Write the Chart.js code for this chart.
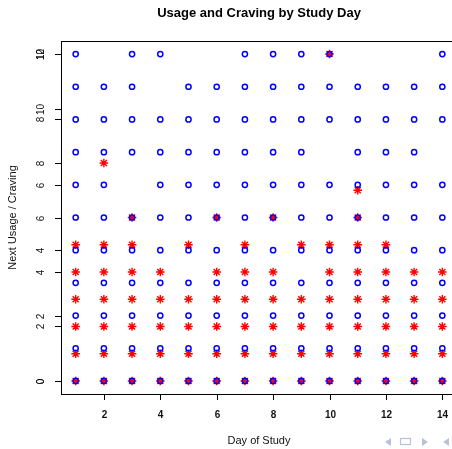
<!DOCTYPE html>
<html>
<head>
<meta charset="utf-8">
<script src="https://cdn.jsdelivr.net/npm/chart.js@4.4.1/dist/chart.umd.min.js"></script>
<style>
  html, body { margin: 0; padding: 0; background: #fff; overflow: hidden; }
  #wrap { width: 470px; height: 449px; }
</style>
</head>
<body>
<div id="wrap"><canvas id="c" width="470" height="449"></canvas></div>
<script>
// ---- data ----
const chartTitle = 'Usage and Craving by Study Day';
const xTitle = 'Day of Study';
const yTitle = 'Next Usage / Craving';
const allDays = [1,2,3,4,5,6,7,8,9,10,11,12,13,14];

// usage (blue circles): levels and the days on which each level occurs
const usageLevels = [0,1,2,3,4,5,6,7,8,9,10];
const usageDays = [
  [1,2,3,4,5,6,7,8,9,10,11,12,13,14],
  [1,2,3,4,5,6,7,8,9,10,11,12,13,14],
  [1,2,3,4,5,6,7,8,9,10,11,12,13,14],
  [1,2,3,4,5,6,7,8,9,10,11,12,13,14],
  [1,2,3,4,5,6,7,8,9,10,11,12,13,14],
  [1,2,3,4,5,6,7,8,9,10,11,12,13,14],
  [1,2,4,5,6,7,8,9,10,11,12,13,14],
  [1,2,3,4,5,6,7,8,9,11,12,13],
  [1,2,3,4,5,6,7,8,9,10,11,12,13,14],
  [1,2,3,5,6,7,8,9,10,11,12,13,14],
  [1,3,4,7,8,9,10,14]
];

// craving (red asterisks): levels and days
const cravingLevels = [0,1,2,3,4,5,6,7,8,12];
const cravingDays = [
  [1,2,3,4,5,6,7,8,9,10,11,12,13,14],
  [1,2,3,4,5,6,7,8,9,10,11,12,13,14],
  [1,2,3,4,5,6,7,8,9,10,11,12,13,14],
  [1,2,3,4,5,6,7,8,9,10,11,12,13,14],
  [1,2,3,4,6,7,8,10,11,12,13,14],
  [1,2,3,5,7,9,10,11,12],
  [3,6,8,11],
  [11],
  [2],
  [10]
];

const xTicks = [2,4,6,8,10,12,14];
const usageTicks = [0,2,4,6,8,10];
const cravingTicks = [0,2,4,6,8,10,12];

// ---- build point lists ----
function buildPoints(levels, daysPerLevel) {
  const pts = [];
  levels.forEach((lv, i) => daysPerLevel[i].forEach(d => pts.push({x: d, y: lv})));
  return pts;
}
const usagePoints = buildPoints(usageLevels, usageDays);
const cravingPoints = buildPoints(cravingLevels, cravingDays);

const FONT = '"Liberation Sans", Arial, Helvetica, sans-serif';

const rAxes = {
  id: 'rAxes',
  afterDraw(chart) {
    const {ctx, chartArea: a, scales} = chart;
    ctx.save();
    ctx.strokeStyle = '#000';
    ctx.lineWidth = 1;
    ctx.strokeRect(Math.round(a.left) + 0.5, Math.round(a.top) + 0.5,
                   Math.round(a.right - a.left), Math.round(a.bottom - a.top));
    ctx.fillStyle = '#111';

    // x axis ticks
    ctx.font = 'bold 10px ' + FONT;
    ctx.textAlign = 'center';
    ctx.textBaseline = 'middle';
    xTicks.forEach(v => {
      const px = Math.round(scales.x.getPixelForValue(v)) + 0.5;
      ctx.beginPath();
      ctx.moveTo(px, a.bottom);
      ctx.lineTo(px, a.bottom + 6);
      ctx.stroke();
      ctx.fillText(String(v), px, a.bottom + 21);
    });

    // y axes (usage and craving share the left side)
    ctx.font = '10px ' + FONT;
    const drawY = (scale, ticks) => {
      ticks.forEach(v => {
        const py = Math.round(scale.getPixelForValue(v)) + 0.5;
        ctx.beginPath();
        ctx.moveTo(a.left - 6, py);
        ctx.lineTo(a.left, py);
        ctx.stroke();
        ctx.save();
        ctx.translate(41, py);
        ctx.rotate(-Math.PI / 2);
        ctx.fillText(String(v), 0, 0);
        ctx.restore();
      });
    };
    drawY(scales.y, usageTicks);
    drawY(scales.y2, cravingTicks);

    // titles
    const cx = (a.left + a.right) / 2;
    ctx.font = '11px ' + FONT;
    ctx.fillText(xTitle, cx, 441);
    ctx.save();
    ctx.translate(13, (a.top + a.bottom) / 2);
    ctx.rotate(-Math.PI / 2);
    ctx.fillText(yTitle, 0, 0);
    ctx.restore();
    ctx.font = 'bold 13px ' + FONT;
    ctx.fillStyle = '#000';
    ctx.fillText(chartTitle, cx, 13);

    // slide navigation symbols
    ctx.fillStyle = '#b9c1d8';
    ctx.strokeStyle = '#b9c1d8';
    ctx.beginPath(); ctx.moveTo(391, 438); ctx.lineTo(385, 442); ctx.lineTo(391, 446); ctx.closePath(); ctx.fill();
    ctx.lineWidth = 1.2;
    ctx.strokeRect(400.5, 438.5, 10, 6);
    ctx.beginPath(); ctx.moveTo(422, 438); ctx.lineTo(428, 442); ctx.lineTo(422, 446); ctx.closePath(); ctx.fill();
    ctx.beginPath(); ctx.moveTo(449, 438); ctx.lineTo(443, 442); ctx.lineTo(449, 446); ctx.closePath(); ctx.fill();
    ctx.restore();
  }
};

new Chart(document.getElementById('c'), {
  type: 'scatter',
  data: {
    datasets: [
      {
        label: 'Usage',
        data: usagePoints,
        yAxisID: 'y',
        pointStyle: 'circle',
        pointRadius: 2.6,
        pointBorderWidth: 1.5,
        borderColor: '#0000ff',
        backgroundColor: 'rgba(0,0,0,0)',
        order: 1
      },
      {
        label: 'Craving',
        data: cravingPoints,
        yAxisID: 'y2',
        pointStyle: 'star',
        pointRadius: 4.3,
        pointBorderWidth: 1.4,
        borderColor: '#ff0000',
        backgroundColor: '#ff0000',
        order: 2
      }
    ]
  },
  options: {
    responsive: false,
    animation: false,
    devicePixelRatio: 1,
    layout: { padding: { left: 61, top: 41, right: 13, bottom: 55 } },
    plugins: { legend: { display: false }, tooltip: { enabled: false }, title: { display: false } },
    scales: {
      x: { type: 'linear', min: 0.48, max: 14.52, display: false },
      y: { type: 'linear', min: -0.4, max: 10.4, display: false },
      y2: { type: 'linear', min: -0.48, max: 12.48, display: false }
    }
  },
  plugins: [rAxes]
});
</script>
</body>
</html>
